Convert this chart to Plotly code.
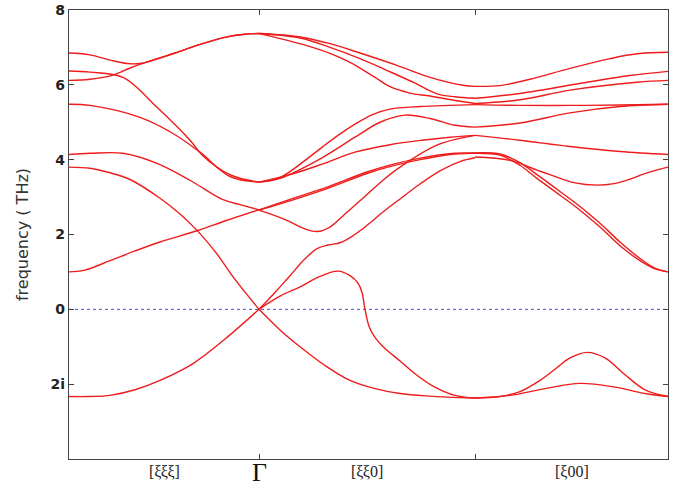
import plotly.graph_objects as go

# ---------------- data ----------------
# path coordinate: R = 0, Gamma = 190, M = 406, X = 599
path_ticks = [190, 406]
gamma_label = "Γ"
dir_labels = ["[ξξξ]", "[ξξ0]", "[ξ00]"]
dir_label_pos = [95, 298, 502.5]
freq_ticks = [8, 6, 4, 2, 0, -2]
freq_tick_text = ["8", "6", "4", "2", "0", "2i"]

# --- segment R -> Gamma  [xxx]
rg_a_q = [0, 21, 41, 58, 71, 81, 106, 131, 156, 176, 190]
rg_a_f = [6.85, 6.80, 6.66, 6.57, 6.57, 6.63, 6.85, 7.08, 7.27, 7.35, 7.37]
rg_b_q = [0, 21, 44, 61, 81, 106, 131, 156, 176, 190]
rg_b_f = [6.12, 6.15, 6.26, 6.45, 6.64, 6.85, 7.08, 7.27, 7.35, 7.37]
rg_c_q = [0, 21, 54, 88, 121, 134, 161, 190]
rg_c_f = [6.37, 6.34, 6.20, 5.40, 4.52, 4.10, 3.60, 3.40]
rg_d_q = [0, 21, 71, 104, 131, 161, 190]
rg_d_f = [5.48, 5.45, 5.13, 4.70, 4.20, 3.55, 3.40]
rg_e_q = [0, 21, 54, 88, 121, 154, 171, 190]
rg_e_f = [4.14, 4.17, 4.17, 3.90, 3.45, 2.93, 2.80, 2.66]
rg_f_q = [0, 21, 41, 61, 91, 111, 128, 146, 166, 190]
rg_f_f = [3.80, 3.77, 3.65, 3.47, 2.97, 2.55, 2.11, 1.55, 0.80, 0.0]
rg_g_q = [0, 15, 41, 66, 91, 128, 158, 190]
rg_g_f = [1.00, 1.04, 1.30, 1.56, 1.80, 2.10, 2.38, 2.66]
rg_h_q = [0, 21, 41, 66, 91, 124, 158, 190]
rg_h_f = [-2.33, -2.33, -2.30, -2.15, -1.90, -1.45, -0.75, 0.0]

# --- segment Gamma -> M  [xx0]
gm_t1_q = [190, 231, 261, 291, 328, 361, 394, 406]
gm_t1_f = [7.37, 7.28, 7.10, 6.85, 6.52, 6.20, 5.99, 5.96]
gm_t2_q = [190, 231, 261, 291, 321, 344, 368, 386, 406]
gm_t2_f = [7.37, 7.25, 7.00, 6.70, 6.35, 6.07, 5.76, 5.68, 5.64]
gm_t3_q = [190, 231, 261, 281, 306, 321, 341, 361, 386, 406]
gm_t3_f = [7.37, 7.10, 6.84, 6.60, 6.20, 5.95, 5.78, 5.70, 5.58, 5.50]
gm_u1_q = [190, 211, 236, 253, 269, 286, 303, 321, 351, 381, 406]
gm_u1_f = [3.40, 3.52, 3.98, 4.33, 4.65, 4.95, 5.20, 5.35, 5.42, 5.45, 5.47]
gm_u2_q = [190, 211, 253, 286, 311, 336, 361, 386, 406]
gm_u2_f = [3.40, 3.50, 4.05, 4.60, 5.00, 5.19, 5.10, 4.92, 4.87]
gm_u3_q = [190, 221, 253, 286, 321, 353, 381, 406]
gm_u3_f = [3.40, 3.60, 3.88, 4.20, 4.40, 4.52, 4.60, 4.65]
gm_v1_q = [190, 221, 253, 298, 319, 351, 386, 406]
gm_v1_f = [2.65, 2.90, 3.18, 3.63, 3.80, 4.00, 4.15, 4.17]
gm_v2_q = [190, 221, 253, 298, 319, 351, 386, 406]
gm_v2_f = [2.66, 2.94, 3.22, 3.67, 3.84, 4.04, 4.17, 4.18]
gm_w_q = [190, 216, 236, 248, 261, 276, 291, 314, 331, 369, 406]
gm_w_f = [2.65, 2.40, 2.15, 2.08, 2.20, 2.55, 2.90, 3.45, 3.80, 4.40, 4.65]
gm_x1_q = [190, 206, 221, 236, 248, 259, 271, 283, 296, 314, 331, 351, 371, 391, 406]
gm_x1_f = [0.0, 0.45, 0.90, 1.35, 1.62, 1.72, 1.78, 1.95, 2.20, 2.60, 2.95, 3.35, 3.70, 3.95, 4.05]
gm_x2_q = [190, 211, 231, 251, 269, 281, 289, 293, 296, 300, 306, 316, 331, 346, 364, 386, 406]
gm_x2_f = [0.0, 0.35, 0.60, 0.88, 1.02, 0.90, 0.70, 0.45, 0.0, -0.45, -0.75, -1.05, -1.38, -1.72, -2.05, -2.30, -2.37]
gm_x3_q = [190, 211, 231, 256, 281, 306, 331, 361, 391, 406]
gm_x3_f = [0.0, -0.55, -1.00, -1.50, -1.90, -2.12, -2.25, -2.32, -2.36, -2.37]

# --- segment M -> X  [x00]
mx_s1_q = [406, 431, 461, 501, 541, 568, 599]
mx_s1_f = [5.96, 5.98, 6.15, 6.44, 6.70, 6.83, 6.87]
mx_s2_q = [406, 451, 518, 561, 599]
mx_s2_f = [5.64, 5.77, 6.07, 6.25, 6.36]
mx_s3_q = [406, 451, 501, 568, 599]
mx_s3_f = [5.50, 5.60, 5.86, 6.07, 6.12]
mx_s4_q = [406, 451, 501, 551, 599]
mx_s4_f = [5.47, 5.45, 5.45, 5.46, 5.48]
mx_s5_q = [406, 451, 501, 551, 599]
mx_s5_f = [4.87, 4.98, 5.25, 5.42, 5.48]
mx_s6_q = [406, 451, 501, 551, 599]
mx_s6_f = [4.65, 4.52, 4.35, 4.22, 4.14]
mx_s7_q = [406, 431, 451, 468, 491, 511, 531, 551, 571, 586, 599]
mx_s7_f = [4.17, 4.12, 3.85, 3.50, 3.05, 2.65, 2.20, 1.70, 1.30, 1.08, 1.00]
mx_s8_q = [406, 431, 451, 468, 491, 511, 531, 551, 571, 586, 599]
mx_s8_f = [4.18, 4.15, 3.92, 3.60, 3.15, 2.75, 2.30, 1.80, 1.36, 1.10, 1.00]
mx_s9_q = [406, 441, 468, 481, 506, 528, 545, 560, 575, 590, 599]
mx_s9_f = [4.07, 3.98, 3.72, 3.60, 3.38, 3.32, 3.36, 3.47, 3.62, 3.74, 3.80]
mx_s10_q = [406, 431, 451, 471, 486, 501, 518, 536, 556, 576, 599]
mx_s10_f = [-2.37, -2.33, -2.20, -1.90, -1.60, -1.30, -1.15, -1.30, -1.75, -2.15, -2.33]
mx_s11_q = [406, 441, 476, 511, 546, 576, 599]
mx_s11_f = [-2.37, -2.30, -2.12, -1.98, -2.08, -2.25, -2.33]

bands = [
    (rg_a_q, rg_a_f), (rg_b_q, rg_b_f), (rg_c_q, rg_c_f), (rg_d_q, rg_d_f),
    (rg_e_q, rg_e_f), (rg_f_q, rg_f_f), (rg_g_q, rg_g_f), (rg_h_q, rg_h_f),
    (gm_t1_q, gm_t1_f), (gm_t2_q, gm_t2_f), (gm_t3_q, gm_t3_f),
    (gm_u1_q, gm_u1_f), (gm_u2_q, gm_u2_f), (gm_u3_q, gm_u3_f),
    (gm_v1_q, gm_v1_f), (gm_v2_q, gm_v2_f), (gm_w_q, gm_w_f),
    (gm_x1_q, gm_x1_f), (gm_x2_q, gm_x2_f), (gm_x3_q, gm_x3_f),
    (mx_s1_q, mx_s1_f), (mx_s2_q, mx_s2_f), (mx_s3_q, mx_s3_f),
    (mx_s4_q, mx_s4_f), (mx_s5_q, mx_s5_f), (mx_s6_q, mx_s6_f),
    (mx_s7_q, mx_s7_f), (mx_s8_q, mx_s8_f), (mx_s9_q, mx_s9_f),
    (mx_s10_q, mx_s10_f), (mx_s11_q, mx_s11_f),
]

# ---------------- figure ----------------
fig = go.Figure()
for q, f in bands:
    fig.add_trace(go.Scatter(
        x=q, y=f, mode="lines",
        line=dict(color="#ee1c1c", width=1.4, shape="spline", smoothing=1.0),
        hoverinfo="skip", showlegend=False,
    ))

# dotted zero line
fig.add_shape(type="line", xref="x", yref="y", x0=0, x1=599, y0=0, y1=0,
              line=dict(color="#4848c8", width=1, dash="dot"), layer="below")

for lab, pos in zip(dir_labels, dir_label_pos):
    fig.add_annotation(x=pos, y=0, xref="x", yref="paper", text=lab,
                       showarrow=False, yanchor="middle", yshift=-12,
                       font=dict(family="Liberation Serif", size=16, color="#222222"))

fig.add_annotation(x=path_ticks[0], y=0, xref="x", yref="paper", text=gamma_label,
                   showarrow=False, yanchor="middle", yshift=-13,
                   font=dict(family="Liberation Serif", size=26, color="#111111"))

fig.update_layout(
    width=674, height=489,
    margin=dict(l=69, r=6, t=10, b=30),
    paper_bgcolor="white", plot_bgcolor="white",
    showlegend=False,
)
fig.update_xaxes(
    range=[0, 599], showgrid=False, zeroline=False, automargin=False,
    showline=True, linecolor="#444444", linewidth=1.3, mirror="allticks",
    ticks="inside", ticklen=5, tickcolor="#444444",
    tickvals=path_ticks, showticklabels=False,
)
fig.update_yaxes(
    range=[-4, 8], showgrid=False, zeroline=False, automargin=False,
    showline=True, linecolor="#444444", linewidth=1.3, mirror="allticks",
    ticks="inside", ticklen=5, tickcolor="#444444",
    tickvals=freq_ticks, ticktext=freq_tick_text,
    tickfont=dict(family="DejaVu Sans", size=14, color="#222222", weight="bold"),
    title=dict(text="frequency ( THz)", standoff=17,
               font=dict(family="DejaVu Sans", size=16, color="#333333")),
)

fig.write_html(
    "out.html",
    config={"displayModeBar": False},
    post_script="document.body.style.margin='0';document.body.style.overflow='hidden';",
)
